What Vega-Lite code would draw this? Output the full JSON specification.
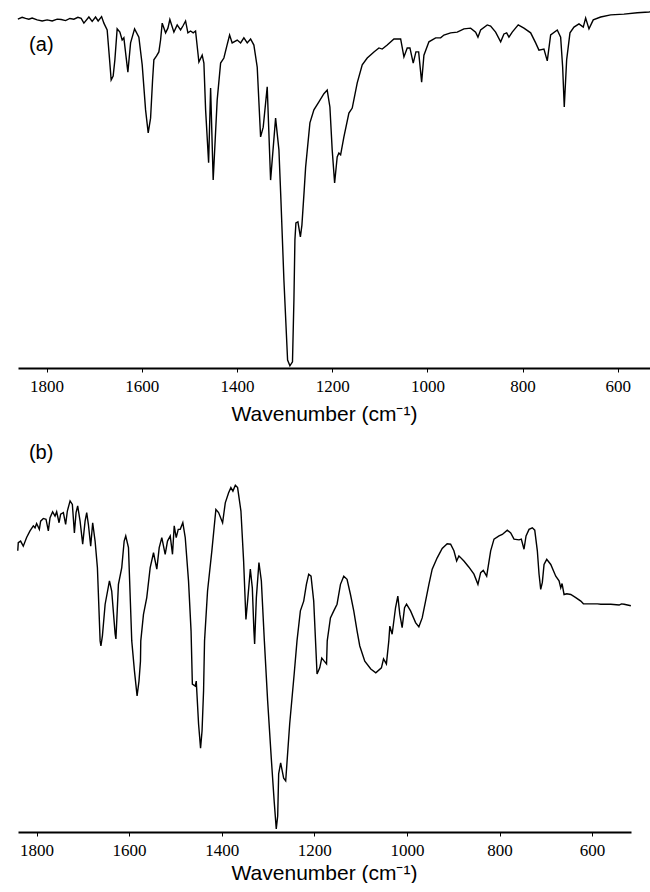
{
  "$schema": "https://vega.github.io/schema/vega-lite/v6.json",
  "padding": {"left": 14, "top": 8, "right": 0, "bottom": 0},
  "spacing": 18,
  "background": "white",
  "config": {
    "view": {"stroke": null},
    "axis": {
      "grid": false,
      "domainColor": "black",
      "domainWidth": 1.8,
      "tickColor": "black",
      "tickSize": 4,
      "tickWidth": 1,
      "labelFont": "Liberation Serif",
      "labelFontSize": 17,
      "labelColor": "black",
      "labelPadding": 6,
      "titleFont": "Liberation Sans",
      "titleFontSize": 21,
      "titleFontWeight": "normal",
      "titleColor": "black"
    }
  },
  "datasets": {
    "a": [
      {"w":1860.3,"t":96.9},{"w":1851.3,"t":97.4},{"w":1844.1,"t":97.1},{"w":1837.2,"t":96.9},{"w":1830.3,"t":97.2},
      {"w":1819.7,"t":96.7},{"w":1809.2,"t":96.4},{"w":1798.7,"t":96.7},{"w":1788.2,"t":96.4},{"w":1777.7,"t":96.9},
      {"w":1769.3,"t":96.8},{"w":1760.1,"t":96.5},{"w":1751,"t":97.1},{"w":1742.6,"t":96.9},{"w":1734.2,"t":97.4},
      {"w":1727.3,"t":97.1},{"w":1721.6,"t":95.8},{"w":1711.1,"t":97.5},{"w":1704.2,"t":96.3},{"w":1697.1,"t":97.5},
      {"w":1691.6,"t":96.4},{"w":1684.4,"t":97.6},{"w":1679.6,"t":95.8},{"w":1672.7,"t":93.9},{"w":1667.6,"t":85.6},
      {"w":1664.3,"t":80},{"w":1660.1,"t":81.1},{"w":1656.5,"t":85.6},{"w":1651.7,"t":94.2},{"w":1646,"t":93.3},
      {"w":1641.2,"t":91.1},{"w":1637.6,"t":91.7},{"w":1633.4,"t":86.9},{"w":1629.2,"t":82.2},{"w":1623.5,"t":90.3},
      {"w":1615.1,"t":94.2},{"w":1606.1,"t":91.9},{"w":1599.1,"t":84.2},{"w":1592,"t":71.7},{"w":1586.5,"t":65.3},
      {"w":1581.5,"t":69.4},{"w":1577.3,"t":80},{"w":1574.6,"t":85.6},{"w":1568.9,"t":86.7},{"w":1564.1,"t":87.8},
      {"w":1560.5,"t":91.1},{"w":1557.1,"t":95.8},{"w":1550,"t":93.1},{"w":1545.1,"t":94.4},{"w":1541,"t":96.8},
      {"w":1532.5,"t":93.3},{"w":1525.6,"t":95.3},{"w":1518.5,"t":93.9},{"w":1513.6,"t":95},{"w":1508,"t":96.4},
      {"w":1503.1,"t":93.1},{"w":1497.5,"t":93.6},{"w":1492,"t":93.1},{"w":1487,"t":93.6},{"w":1480,"t":85},
      {"w":1473.1,"t":86.9},{"w":1469.5,"t":84.7},{"w":1465.9,"t":71.7},{"w":1459.6,"t":57},{"w":1455.4,"t":77.8},
      {"w":1450,"t":52.2},{"w":1441.6,"t":74.4},{"w":1434.4,"t":84.7},{"w":1427.5,"t":86.1},{"w":1421.8,"t":89.2},
      {"w":1415.5,"t":92.5},{"w":1410.1,"t":90.3},{"w":1399.5,"t":91.1},{"w":1392.4,"t":90.3},{"w":1385.5,"t":91.7},
      {"w":1378.5,"t":90.3},{"w":1371.4,"t":91.4},{"w":1364.5,"t":89.7},{"w":1357.5,"t":83.6},{"w":1350.4,"t":64.2},
      {"w":1344.9,"t":66.9},{"w":1336.5,"t":78.1},{"w":1329.4,"t":52.2},{"w":1318.9,"t":69.4},{"w":1311.9,"t":60.6},
      {"w":1307.7,"t":46.7},{"w":1301.4,"t":24.4},{"w":1293.7,"t":2.2},{"w":1288.8,"t":0.6},{"w":1283.4,"t":1.7},
      {"w":1280.4,"t":18.9},{"w":1278.3,"t":35.6},{"w":1276.2,"t":40.3},{"w":1272,"t":40.6},{"w":1266.8,"t":36.4},
      {"w":1263.6,"t":39.7},{"w":1258.8,"t":49.4},{"w":1255.8,"t":55.8},{"w":1246.8,"t":68.1},{"w":1238.4,"t":71.7},
      {"w":1227.9,"t":73.9},{"w":1217.4,"t":76.2},{"w":1210.5,"t":77.2},{"w":1204.8,"t":72.5},{"w":1200,"t":60.6},
      {"w":1194.9,"t":51.4},{"w":1189.5,"t":58.6},{"w":1185.9,"t":59.7},{"w":1182.3,"t":59.2},{"w":1175.4,"t":64.2},
      {"w":1164.9,"t":70.8},{"w":1157.9,"t":72.2},{"w":1147.4,"t":79.2},{"w":1136.9,"t":84.2},{"w":1126.4,"t":86.1},
      {"w":1112.3,"t":87.8},{"w":1101.8,"t":88.9},{"w":1094.9,"t":88.6},{"w":1084.4,"t":89.7},{"w":1070.3,"t":91.4},
      {"w":1056.2,"t":91.4},{"w":1049.3,"t":86.4},{"w":1042.4,"t":88.9},{"w":1036.7,"t":88.9},{"w":1029.8,"t":84.7},
      {"w":1024.1,"t":87.8},{"w":1018.4,"t":87.8},{"w":1012.1,"t":79.4},{"w":1007.3,"t":86.9},{"w":996.8,"t":90.6},
      {"w":982.7,"t":91.7},{"w":972.2,"t":91.7},{"w":965.3,"t":92.5},{"w":951.2,"t":93.1},{"w":937.3,"t":93.3},
      {"w":923.3,"t":94.2},{"w":909.2,"t":94.4},{"w":898.7,"t":93.3},{"w":893.8,"t":91.9},{"w":888.2,"t":93.9},
      {"w":874.3,"t":95.3},{"w":867.2,"t":95},{"w":856.7,"t":93.3},{"w":846.1,"t":90.6},{"w":839.2,"t":92.8},
      {"w":833.5,"t":93.1},{"w":828.7,"t":91.9},{"w":821.8,"t":93.3},{"w":809.2,"t":95.3},{"w":797.2,"t":94.4},
      {"w":783.1,"t":93.1},{"w":772.6,"t":90.3},{"w":765.7,"t":88.3},{"w":755.2,"t":88.6},{"w":748.2,"t":85.3},
      {"w":741.1,"t":92.5},{"w":727.2,"t":93.9},{"w":720.1,"t":91.9},{"w":715.9,"t":83.6},{"w":712.5,"t":72.5},
      {"w":707.5,"t":85.6},{"w":700.5,"t":93.1},{"w":692.1,"t":94.7},{"w":681.6,"t":95.6},{"w":672.6,"t":94.7},
      {"w":667.6,"t":97.2},{"w":660.6,"t":94.2},{"w":651.6,"t":96.7},{"w":636,"t":97.5},{"w":615,"t":98.1},
      {"w":587.1,"t":98.3},{"w":559.1,"t":98.7},{"w":534.6,"t":98.9},{"w":528.3,"t":99}
    ],
    "b": [
      {"w":1840.5,"t":72.1},{"w":1839.4,"t":74.2},{"w":1834.4,"t":74.6},{"w":1828.6,"t":73.3},{"w":1821.4,"t":75.5},
      {"w":1814.1,"t":77.2},{"w":1806.9,"t":78.5},{"w":1803.2,"t":78.0},{"w":1799.8,"t":79.1},{"w":1793.9,"t":77.6},
      {"w":1791.1,"t":79.7},{"w":1785.3,"t":80.4},{"w":1779.5,"t":80.2},{"w":1774.5,"t":77.2},{"w":1770.8,"t":80.6},
      {"w":1765.2,"t":82.1},{"w":1760,"t":81.0},{"w":1756.5,"t":82.1},{"w":1751.3,"t":79.3},{"w":1747.9,"t":81.5},
      {"w":1742,"t":81.9},{"w":1737.1,"t":78.9},{"w":1733.4,"t":82.3},{"w":1727.5,"t":84.9},{"w":1722.6,"t":84.0},
      {"w":1718.2,"t":76.7},{"w":1714.6,"t":81.9},{"w":1711.1,"t":83.6},{"w":1705.9,"t":79.7},{"w":1700.3,"t":73.8},
      {"w":1695.1,"t":79.7},{"w":1691.6,"t":81.9},{"w":1688,"t":78.9},{"w":1683,"t":73.3},{"w":1678.7,"t":79.3},
      {"w":1673.5,"t":74.6},{"w":1668.5,"t":67.8},{"w":1662.6,"t":49.0},{"w":1660.9,"t":47.7},{"w":1657.7,"t":50.3},
      {"w":1651.8,"t":58.4},{"w":1642.5,"t":64.4},{"w":1637.6,"t":61.8},{"w":1630.2,"t":50.8},{"w":1628.5,"t":49.5},
      {"w":1623.1,"t":63.5},{"w":1615.9,"t":67.8},{"w":1610.7,"t":74.6},{"w":1607.3,"t":75.9},{"w":1601.4,"t":72.9},
      {"w":1594.3,"t":49.0},{"w":1588.5,"t":41.3},{"w":1582.8,"t":34.9},{"w":1578.7,"t":38.7},{"w":1575.5,"t":43.8},
      {"w":1574.8,"t":49.0},{"w":1569,"t":55.8},{"w":1561.9,"t":60.1},{"w":1554.5,"t":67.8},{"w":1547.3,"t":71.6},
      {"w":1540.2,"t":67.4},{"w":1535,"t":72.9},{"w":1529.4,"t":75.5},{"w":1522.1,"t":71.2},{"w":1517.1,"t":74.6},
      {"w":1511.2,"t":75.9},{"w":1506.3,"t":71.2},{"w":1502.6,"t":78.5},{"w":1498.3,"t":75.5},{"w":1493.9,"t":77.6},
      {"w":1489.6,"t":77.6},{"w":1484,"t":79.3},{"w":1478.8,"t":75.5},{"w":1471.7,"t":64.4},{"w":1466.2,"t":51.5},
      {"w":1463.4,"t":37.9},{"w":1457.2,"t":37.4},{"w":1455,"t":38.7},{"w":1450,"t":27.7},{"w":1445.7,"t":21.5},
      {"w":1442.5,"t":25.9},{"w":1439.2,"t":36.2},{"w":1437.1,"t":49.0},{"w":1430.6,"t":61.8},{"w":1421.3,"t":72.1},
      {"w":1412.6,"t":82.7},{"w":1406.8,"t":81.9},{"w":1398.1,"t":79.3},{"w":1392.3,"t":84.4},{"w":1385.1,"t":87.0},
      {"w":1380.2,"t":88.3},{"w":1375.8,"t":87.4},{"w":1370.6,"t":88.9},{"w":1365.7,"t":88.3},{"w":1358.5,"t":82.3},
      {"w":1352.7,"t":69.5},{"w":1347.7,"t":54.5},{"w":1344.1,"t":59.2},{"w":1338.2,"t":67.4},{"w":1333.9,"t":62.6},
      {"w":1330.4,"t":51.5},{"w":1328.9,"t":48.2},{"w":1325.2,"t":60.1},{"w":1319.6,"t":69.1},{"w":1314.4,"t":64.4},
      {"w":1307.9,"t":49.0},{"w":1300.8,"t":33.6},{"w":1293,"t":19.0},{"w":1286.7,"t":7.9},{"w":1282.2,"t":0.8},
      {"w":1279.1,"t":4.1},{"w":1277,"t":14.9},{"w":1272.7,"t":17.7},{"w":1266.2,"t":13.8},{"w":1261.8,"t":13.1},
      {"w":1253.2,"t":27.7},{"w":1243.5,"t":40.5},{"w":1237.4,"t":49.0},{"w":1230.1,"t":56.7},{"w":1222.9,"t":59.2},
      {"w":1217.1,"t":63.5},{"w":1212.1,"t":66.1},{"w":1207.1,"t":65.6},{"w":1201.3,"t":59.2},{"w":1194.1,"t":40.5},
      {"w":1188.3,"t":42.1},{"w":1183.9,"t":44.6},{"w":1178.6,"t":43.8},{"w":1173.6,"t":43.1},{"w":1172.1,"t":49.0},
      {"w":1165.2,"t":54.9},{"w":1158,"t":56.7},{"w":1150.9,"t":58.4},{"w":1143.5,"t":63.5},{"w":1136.4,"t":65.6},
      {"w":1129.3,"t":64.8},{"w":1121.9,"t":60.9},{"w":1114.8,"t":56.7},{"w":1107.6,"t":51.5},{"w":1101.8,"t":47.7},
      {"w":1091,"t":43.8},{"w":1078,"t":41.8},{"w":1067.2,"t":40.8},{"w":1055.1,"t":42.1},{"w":1050.5,"t":44.4},
      {"w":1044.3,"t":43.1},{"w":1039.1,"t":49.0},{"w":1036.9,"t":52.8},{"w":1031.9,"t":50.7},{"w":1024.6,"t":57.5},
      {"w":1019.6,"t":60.5},{"w":1015.3,"t":55.8},{"w":1010.3,"t":52.4},{"w":1005.1,"t":57.5},{"w":1000.8,"t":58.4},
      {"w":992.1,"t":56.7},{"w":981.3,"t":53.7},{"w":974.2,"t":52.6},{"w":967,"t":54.9},{"w":959.7,"t":59.2},
      {"w":952.5,"t":63.5},{"w":945.4,"t":67.4},{"w":934.6,"t":70.3},{"w":923.8,"t":72.7},{"w":913,"t":73.9},
      {"w":905.6,"t":73.8},{"w":898.5,"t":72.1},{"w":892.6,"t":69.5},{"w":887.7,"t":70.8},{"w":876.9,"t":69.5},
      {"w":866,"t":67.9},{"w":855.2,"t":66.1},{"w":846.6,"t":63.5},{"w":840.7,"t":66.5},{"w":835.1,"t":67.1},
      {"w":827.7,"t":65.6},{"w":819.1,"t":72.1},{"w":811.9,"t":75.1},{"w":801.1,"t":75.9},{"w":794,"t":76.3},
      {"w":783.2,"t":77.4},{"w":775.8,"t":76.7},{"w":768.7,"t":75.1},{"w":757.9,"t":74.9},{"w":752.9,"t":75.1},
      {"w":747.1,"t":72.5},{"w":742.7,"t":75.9},{"w":736.2,"t":77.6},{"w":729.1,"t":78.0},{"w":723.9,"t":77.4},
      {"w":718.3,"t":72.1},{"w":714.6,"t":66.1},{"w":711,"t":62.2},{"w":707.5,"t":64.0},{"w":703.8,"t":68.6},
      {"w":698,"t":69.9},{"w":689.3,"t":68.6},{"w":678.5,"t":65.6},{"w":671.4,"t":64.4},{"w":667.7,"t":62.6},
      {"w":664.9,"t":63.7},{"w":660.6,"t":60.9},{"w":654.7,"t":61.1},{"w":646.1,"t":60.9},{"w":635.3,"t":60.1},
      {"w":624.4,"t":59.2},{"w":618.8,"t":58.5},{"w":602.8,"t":58.5},{"w":588.5,"t":58.5},{"w":581.2,"t":58.4},
      {"w":559.6,"t":58.4},{"w":541.6,"t":58.2},{"w":536.6,"t":58.5},{"w":530.8,"t":58.4},{"w":516.3,"t":58.0}
    ],
    "la": [{"w": 1811, "t": 89.7, "label": "(a)"}],
    "lb": [{"w": 1790, "t": 97.2, "label": "(b)"}]
  },
  "vconcat": [
    {
      "width": 636,
      "height": 360,
      "layer": [
        {
          "data": {"name": "a"},
          "mark": {"type": "line", "color": "black", "strokeWidth": 1.4},
          "encoding": {
            "x": {"field": "w", "type": "quantitative",
                  "scale": {"domain": [524, 1860], "reverse": true, "nice": false, "zero": false},
                  "axis": {"values": [1800, 1600, 1400, 1200, 1000, 800, 600], "format": "d",
                           "title": "Wavenumber (cm⁻¹)", "titleX": 306, "titlePadding": 9}},
            "y": {"field": "t", "type": "quantitative",
                  "scale": {"domain": [0, 100], "nice": false, "zero": false}, "axis": null}
          }
        },
        {
          "data": {"name": "la"},
          "mark": {"type": "text", "font": "Liberation Sans", "fontSize": 20, "color": "black", "align": "center", "baseline": "middle"},
          "encoding": {
            "x": {"field": "w", "type": "quantitative"},
            "y": {"field": "t", "type": "quantitative"},
            "text": {"field": "label"}
          }
        }
      ]
    },
    {
      "width": 613,
      "height": 390,
      "layer": [
        {
          "data": {"name": "b"},
          "mark": {"type": "line", "color": "black", "strokeWidth": 1.4},
          "encoding": {
            "x": {"field": "w", "type": "quantitative",
                  "scale": {"domain": [516, 1840], "reverse": true, "nice": false, "zero": false},
                  "axis": {"values": [1800, 1600, 1400, 1200, 1000, 800, 600], "format": "d",
                           "title": "Wavenumber (cm⁻¹)", "titleX": 306, "titlePadding": 4}},
            "y": {"field": "t", "type": "quantitative",
                  "scale": {"domain": [0, 100], "nice": false, "zero": false}, "axis": null}
          }
        },
        {
          "data": {"name": "lb"},
          "mark": {"type": "text", "font": "Liberation Sans", "fontSize": 20, "color": "black", "align": "center", "baseline": "middle"},
          "encoding": {
            "x": {"field": "w", "type": "quantitative"},
            "y": {"field": "t", "type": "quantitative"},
            "text": {"field": "label"}
          }
        }
      ]
    }
  ]
}
